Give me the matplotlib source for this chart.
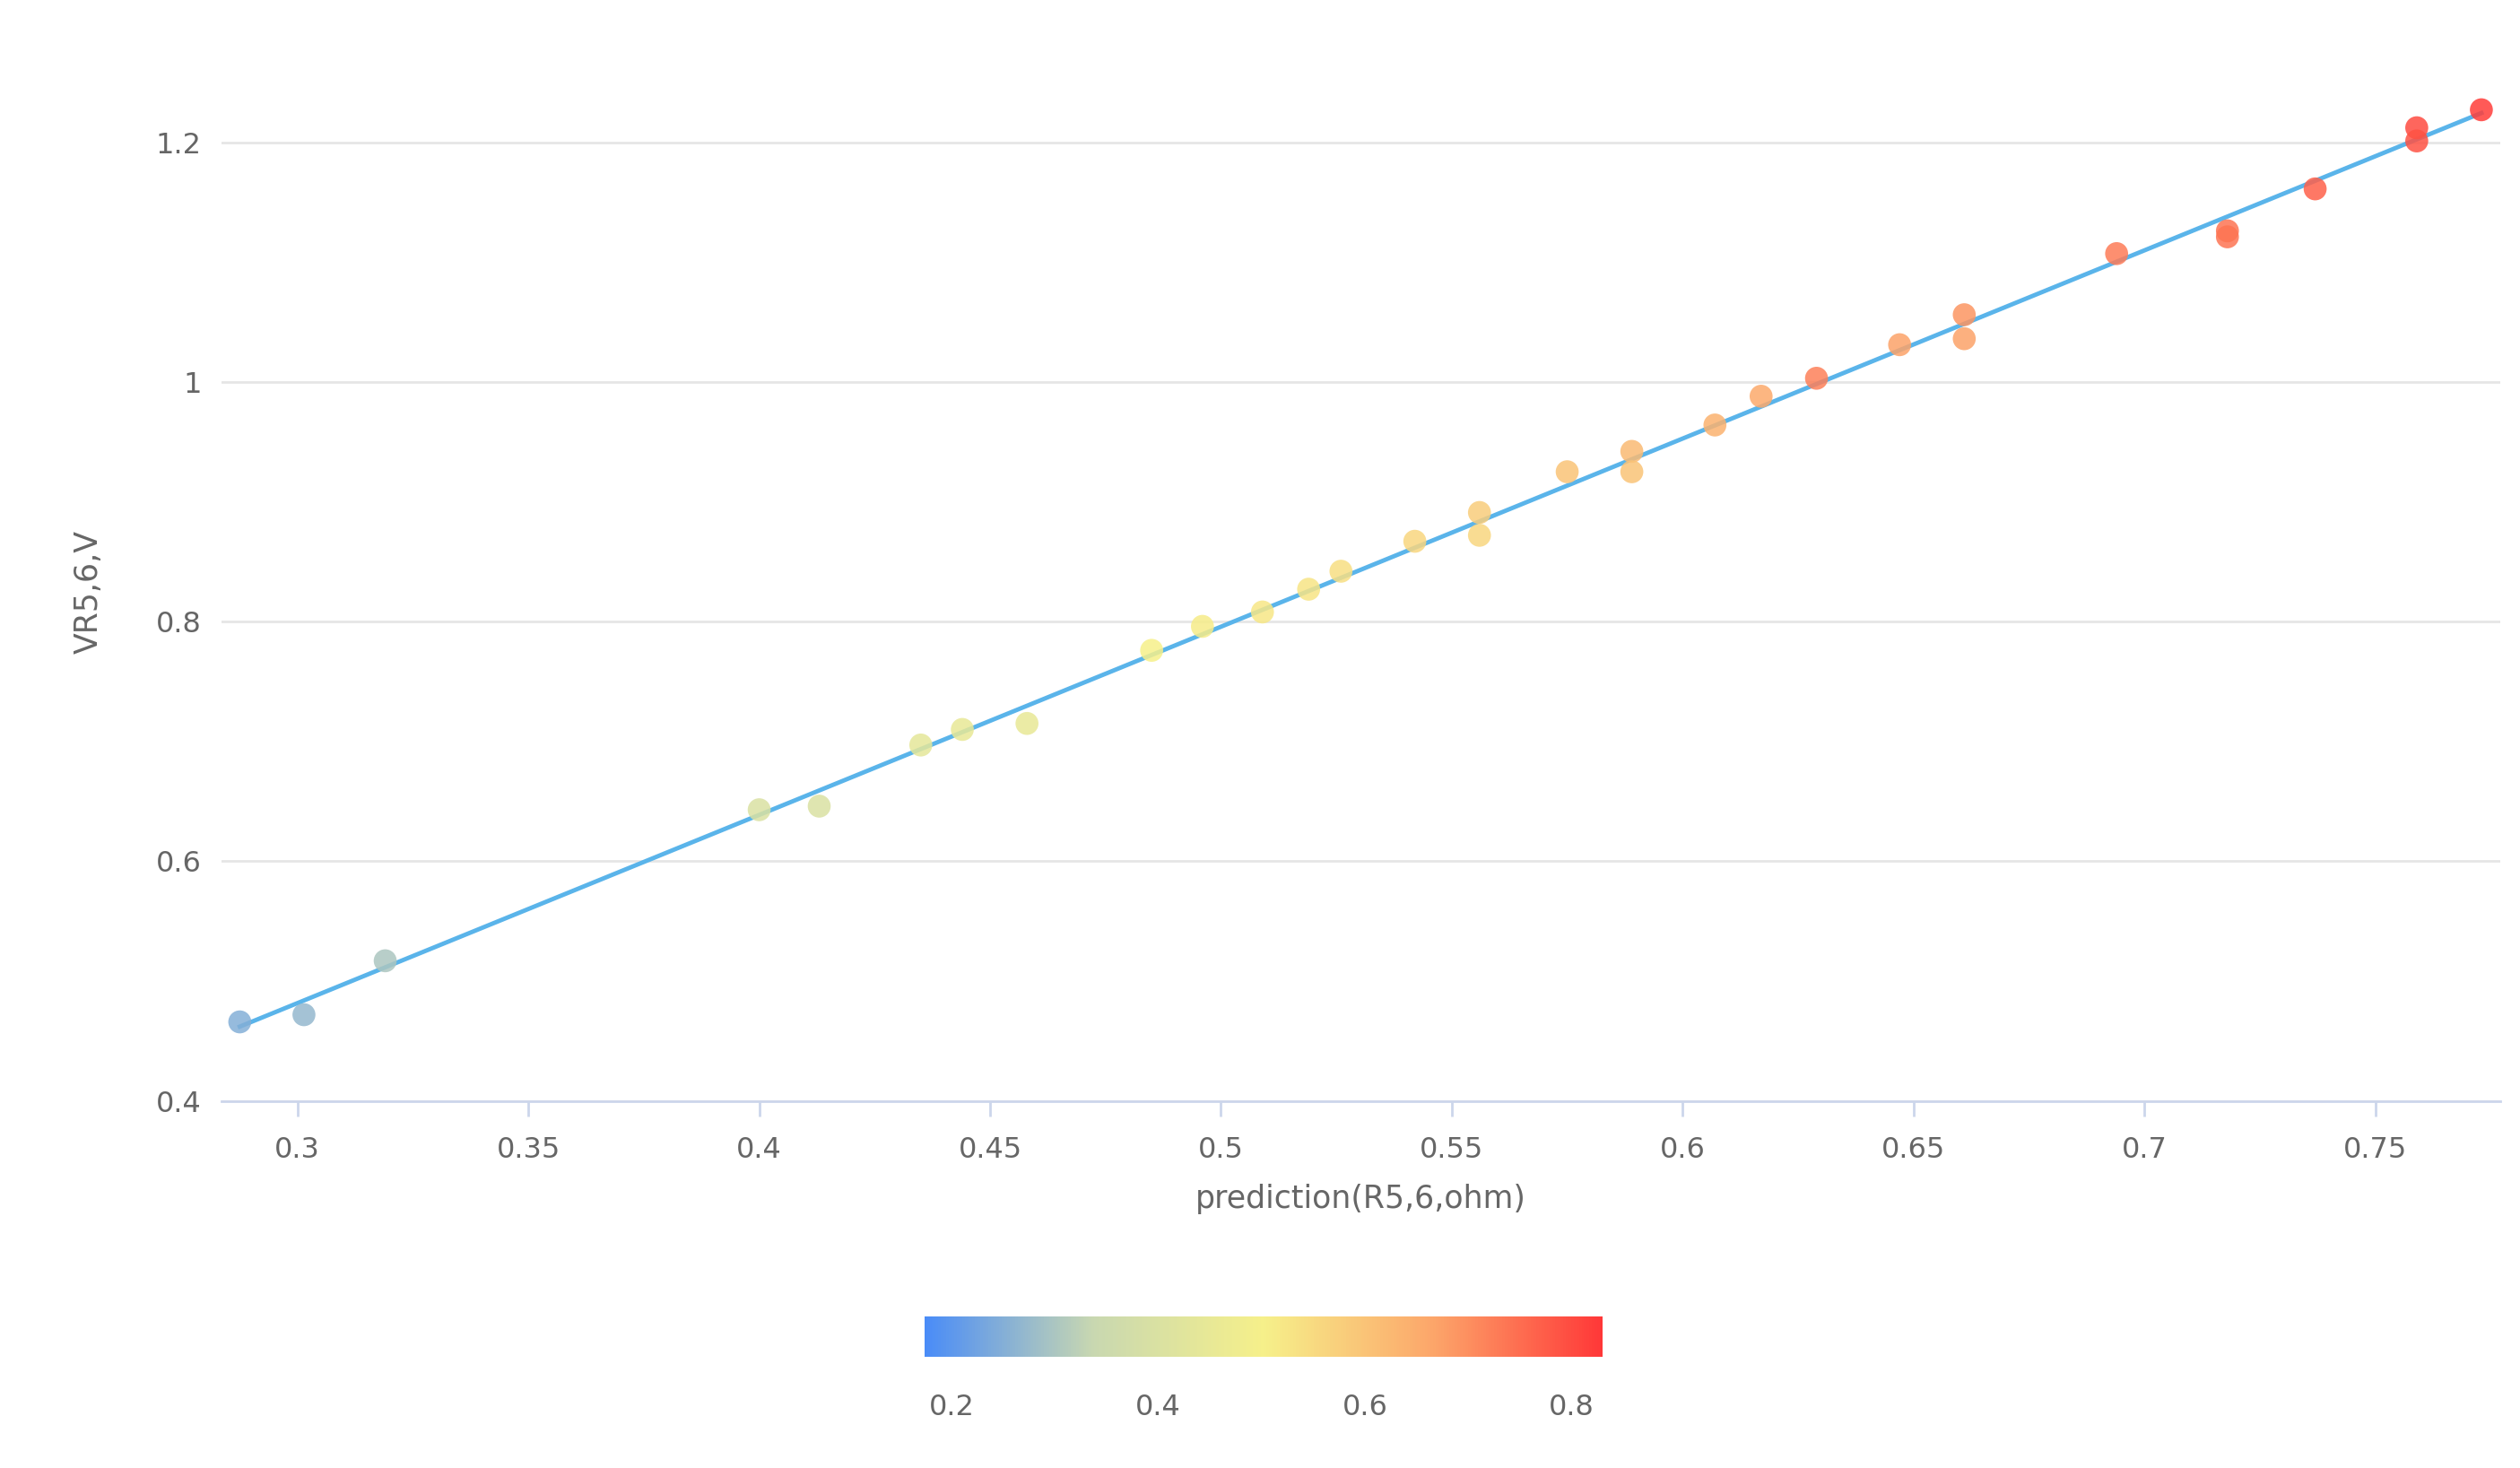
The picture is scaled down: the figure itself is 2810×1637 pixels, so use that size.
import numpy as np
import matplotlib.pyplot as plt
from matplotlib.colors import LinearSegmentedColormap, Normalize
from matplotlib.colorbar import ColorbarBase

# prediction (R5,6 ohm) and measured VR5,6
pred = [0.2875, 0.3014, 0.319, 0.400, 0.413, 0.435, 0.444, 0.458, 0.485, 0.496,
        0.509, 0.519, 0.526, 0.542, 0.556, 0.556, 0.575, 0.589, 0.589, 0.607,
        0.617, 0.629, 0.647, 0.661, 0.661, 0.694, 0.718, 0.718, 0.737, 0.759,
        0.759, 0.773]
volt = [0.466, 0.472, 0.517, 0.643, 0.646, 0.697, 0.710, 0.715, 0.776, 0.796,
        0.808, 0.827, 0.842, 0.867, 0.891, 0.872, 0.925, 0.942, 0.925, 0.964,
        0.988, 1.003, 1.031, 1.056, 1.036, 1.107, 1.126, 1.121, 1.161, 1.212,
        1.201, 1.227]
# colour value of each point
cval = [0.25, 0.27, 0.30, 0.40, 0.40, 0.44, 0.45, 0.45, 0.50, 0.51,
        0.52, 0.53, 0.54, 0.56, 0.58, 0.56, 0.60, 0.62, 0.60, 0.64,
        0.66, 0.72, 0.67, 0.69, 0.67, 0.73, 0.74, 0.74, 0.77, 0.80,
        0.79, 0.82]
yticks = [0.4, 0.6, 0.8, 1.0, 1.2]
ytick_labels = ['0.4', '0.6', '0.8', '1', '1.2']
xticks = [0.3, 0.35, 0.4, 0.45, 0.5, 0.55, 0.6, 0.65, 0.7, 0.75]
cbar_ticks = [0.2, 0.4, 0.6, 0.8]

cmap = LinearSegmentedColormap.from_list(
    'bgyr', ['#4a8cf7', '#c9d8b0', '#f6f08a', '#fca66a', '#ff3838'])
norm = Normalize(0.174, 0.83)
txt = '#666666'

fig = plt.figure(figsize=(28.1, 16.37), dpi=100)
ax = fig.add_axes([0.088, 0.25, 0.904, 0.694])
ax.scatter(pred, volt, c=cval, cmap=cmap, norm=norm, s=340, alpha=0.85,
           edgecolors='none', zorder=3)
k, b = np.polyfit(pred, volt, 1)
xl = np.array([min(pred), max(pred)])
ax.plot(xl, k * xl + b, color='#5ab4ea', lw=3.5, zorder=2)

ax.set_xlim(0.2836, 0.777)
ax.set_ylim(0.4, 1.25)
ax.set_xticks(xticks)
ax.set_xticklabels([f'{v:g}' for v in xticks])
ax.set_yticks(yticks)
ax.set_yticklabels(ytick_labels)
ax.grid(axis='y', color='#e6e6e6', lw=2)
for s in ['top', 'right', 'left']:
    ax.spines[s].set_visible(False)
ax.spines['bottom'].set_color('#ccd6eb')
ax.spines['bottom'].set_linewidth(2)
ax.tick_params(axis='both', length=0, labelsize=23, colors=txt, pad=16)
ax.tick_params(axis='x', length=12, width=2, color='#ccd6eb')
ax.set_xlabel('prediction(R5,6,ohm)', fontsize=25, color=txt, labelpad=16)
ax.set_ylabel('VR5,6,V', fontsize=25, color=txt, labelpad=42)

cax = fig.add_axes([0.367, 0.076, 0.269, 0.027])
cb = ColorbarBase(cax, cmap=cmap, norm=norm, orientation='horizontal')
cb.set_ticks(cbar_ticks)
cb.set_ticklabels([f'{v:g}' for v in cbar_ticks])
cb.outline.set_visible(False)
cax.tick_params(length=0, labelsize=23, colors=txt, pad=30)

fig.savefig('out.png', dpi=100)
